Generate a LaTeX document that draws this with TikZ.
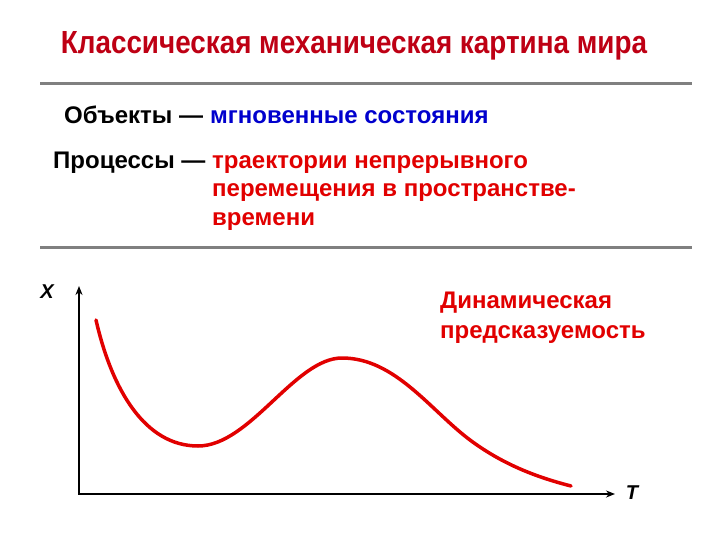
\documentclass[tikz,border=0pt]{standalone}
\usepackage{fontspec}
\setmainfont{Liberation Sans}
\newfontfamily\titlefont[FakeStretch=0.87]{Liberation Sans}
\usetikzlibrary{arrows.meta}

\definecolor{titlered}{RGB}{190,0,20}
\definecolor{textred}{RGB}{225,0,0}
\definecolor{textblue}{RGB}{0,0,205}
\definecolor{rulegray}{RGB}{128,128,128}

\tikzset{
  heading/.style={font=\titlefont\bfseries\fontsize{32}{36}\selectfont, text=titlered, inner sep=0pt},
  plain/.style={font=\bfseries\fontsize{24}{28.5}\selectfont, anchor=base west, inner sep=0pt},
  colored/.style={plain, align=left},
  rule/.style={rulegray, line width=3pt},
  axis/.style={line width=2.2pt, {Stealth[length=9pt,width=7pt]}-{Stealth[length=9pt,width=7pt]}},
  curve/.style={textred, line width=3.5pt, line cap=round},
  axislabel/.style={font=\bfseries\itshape\fontsize{20}{22}\selectfont, inner sep=0pt}
}

\begin{document}
\begin{tikzpicture}[x=1pt, y=-1pt]
    \useasboundingbox (0,0) rectangle (720,540);

    % Заголовок
    \node[heading] (title) at (354,46) {Классическая механическая картина мира};

    % Разделительные линии
    \draw[rule] (40,84) -- (692,84);
    \draw[rule] (40,247) -- (692,247);

    % Объекты и процессы (base = последняя строка)
    \node[plain] (objlbl) at (64,123.5) {Объекты —};
    \node[colored, text=textblue] (objtxt) at (210,123.5) {мгновенные состояния};
    \node[plain] (proclbl) at (53,168.5) {Процессы —};
    \node[colored, text=textred] (proctxt) at (212,225.5)
        {траектории непрерывного\\перемещения в пространстве-\\времени};

    % Оси
    \coordinate (ytop) at (79,286);
    \coordinate (orig) at (79,494);
    \coordinate (xend) at (615,494);
    \draw[axis] (ytop) -- (orig) -- (xend);
    \node[axislabel] (xlbl) at (47,292) {X};
    \node[axislabel] (tlbl) at (632,493) {T};

    % Траектория
    \draw[curve] (96,320) .. controls (112,390) and (145,446) .. (198,446)
        .. controls (250,446) and (295,358) .. (342,358)
        .. controls (395,358) and (430,410) .. (470,440)
        .. controls (505,466) and (540,478) .. (571,486);

    % Подпись
    \node[colored, text=textred, font=\bfseries\fontsize{24}{30}\selectfont] (dyn) at (440,338)
        {Динамическая\\предсказуемость};

\end{tikzpicture}
\end{document}
